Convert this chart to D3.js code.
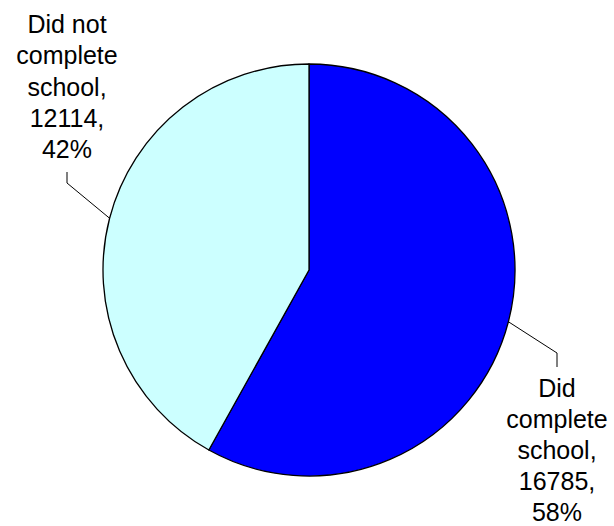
<!DOCTYPE html>
<html>
<head>
<meta charset="utf-8">
<script src="https://cdn.jsdelivr.net/npm/d3@7"></script>
<style>
  html, body { margin: 0; padding: 0; background: #fff; }
  svg { display: block; }
  text { font-family: "Liberation Sans", Arial, sans-serif; fill: #000; }
</style>
</head>
<body>
<svg id="chart" width="614" height="526"></svg>
<script>
const categories = ["Did complete school", "Did not complete school"];
const values = [16785, 12114];
const colors = ["#0000FF", "#CCFFFF"];

const W = 614, H = 526;
const cx = 309, cy = 270, R = 206;
const fontSize = 25, lineH = 31.1;

// label layout (positions only)
const labelLayout = [
  { x: 557, y0: 397, elbow: [557, 353], end: [557, 367] },
  { x: 67,  y0: 33.3, elbow: [67, 183], end: [67, 172] }
];

const svg = d3.select("#chart");
const g = svg.append("g").attr("transform", `translate(${cx},${cy})`);

const pie = d3.pie().sort(null).value(d => d)(values);
const arc = d3.arc().innerRadius(0).outerRadius(R);

g.selectAll("path.slice")
  .data(pie)
  .join("path")
  .attr("class", "slice")
  .attr("d", arc)
  .attr("fill", (d, i) => colors[i])
  .attr("stroke", "#000")
  .attr("stroke-width", 1.3)
  .attr("stroke-linejoin", "round");

const total = d3.sum(values);

function wrapWords(text, maxW) {
  const tmp = svg.append("text").attr("font-size", fontSize);
  const words = text.split(" ");
  const lines = [];
  let cur = "";
  words.forEach(w => {
    const test = cur ? cur + " " + w : w;
    tmp.text(test);
    if (tmp.node().getComputedTextLength() > maxW && cur) {
      lines.push(cur);
      cur = w;
    } else cur = test;
  });
  if (cur) lines.push(cur);
  tmp.remove();
  return lines;
}

pie.forEach((d, i) => {
  const L = labelLayout[i];
  const mid = (d.startAngle + d.endAngle) / 2;
  const ax = cx + R * Math.sin(mid);
  const ay = cy - R * Math.cos(mid);
  svg.append("polyline")
    .attr("points", [[ax, ay], L.elbow, L.end].map(p => p.join(",")).join(" "))
    .attr("fill", "none")
    .attr("stroke", "#000")
    .attr("stroke-width", 1);

  const lines = wrapWords(categories[i], 110);
  lines[lines.length - 1] += ",";
  lines.push(values[i] + ",");
  lines.push(Math.round(values[i] / total * 100) + "%");

  const t = svg.append("text")
    .attr("text-anchor", "middle")
    .attr("font-size", fontSize);
  lines.forEach((ln, k) => {
    t.append("tspan").attr("x", L.x).attr("y", L.y0 + k * lineH).text(ln);
  });
});
</script>
</body>
</html>
